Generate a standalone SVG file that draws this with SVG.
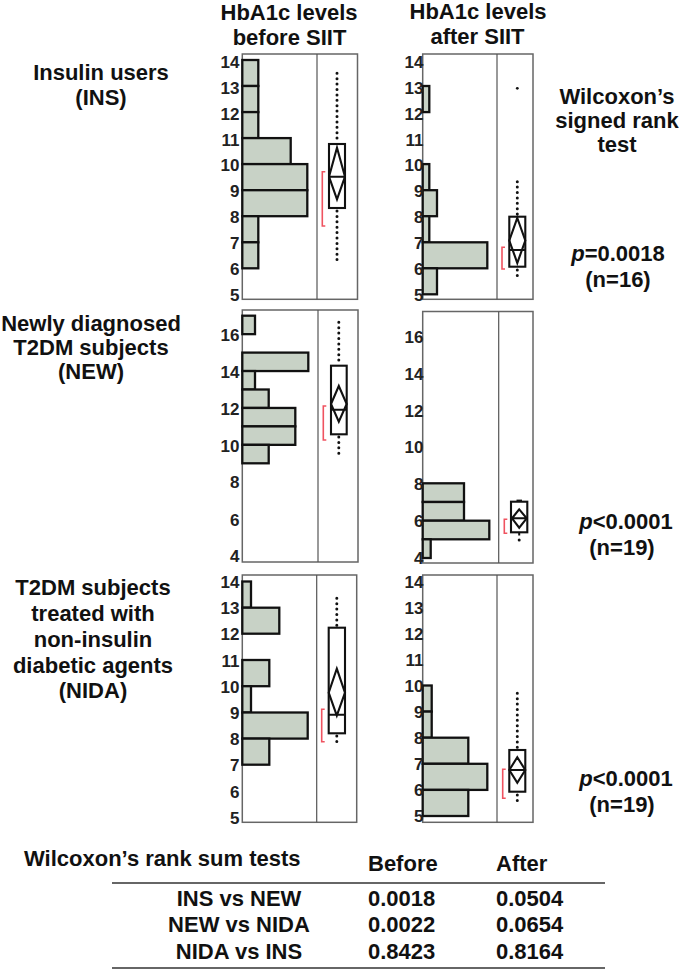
<svg xmlns="http://www.w3.org/2000/svg" width="685" height="971" viewBox="0 0 685 971">
<defs>
<style>
.bg{fill:#fff}
.hb{fill:#c8d2c6;stroke:#111;stroke-width:2.3}
.frame{fill:none;stroke:#666;stroke-width:1.5}
.dv{stroke:#555;stroke-width:1.2}
.box{fill:#fff;stroke:#111;stroke-width:2.1}
.dm{fill:none;stroke:#111;stroke-width:2.1;stroke-linejoin:miter}
.dot{stroke:#111;stroke-width:3;stroke-dasharray:0 5.4;stroke-linecap:round;fill:none}
.ci{fill:none;stroke:#ef5360;stroke-width:1.6}
.tick{font-family:"Liberation Sans",Arial,sans-serif;font-weight:bold;font-size:17px;text-anchor:end;fill:#222}
.lab{font-family:"Liberation Sans",Arial,sans-serif;font-weight:bold;font-size:22px;text-anchor:middle;fill:#111}
.tb{font-family:"Liberation Sans",Arial,sans-serif;font-weight:bold;font-size:22px;fill:#111}
.rule{stroke:#333;stroke-width:1.5}
</style>
</defs>
<rect class="bg" x="0" y="0" width="685" height="971"/>

<g id="titles">
<text class="lab" x="289" y="20">HbA1c levels</text>
<text class="lab" x="289.5" y="44.5">before SIIT</text>
<text class="lab" x="478" y="19">HbA1c levels</text>
<text class="lab" x="477.5" y="43.5">after SIIT</text>
</g>

<g id="row-labels">
<text class="lab" x="101" y="80">Insulin users</text>
<text class="lab" x="101" y="105">(INS)</text>
<text class="lab" x="91" y="331">Newly diagnosed</text>
<text class="lab" x="91" y="355">T2DM subjects</text>
<text class="lab" x="91" y="379">(NEW)</text>
<text class="lab" x="93" y="595">T2DM subjects</text>
<text class="lab" x="93" y="621">treated with</text>
<text class="lab" x="93" y="647">non-insulin</text>
<text class="lab" x="93" y="673">diabetic agents</text>
<text class="lab" x="93" y="698">(NIDA)</text>
</g>

<g id="stats-labels">
<text class="lab" x="617" y="104">Wilcoxon’s</text>
<text class="lab" x="617" y="128">signed rank</text>
<text class="lab" x="617" y="152">test</text>
<text class="lab" x="618" y="261"><tspan font-style="italic">p</tspan>=0.0018</text>
<text class="lab" x="618" y="287">(n=16)</text>
<text class="lab" x="626" y="529"><tspan font-style="italic">p</tspan>&lt;0.0001</text>
<text class="lab" x="622" y="555">(n=19)</text>
<text class="lab" x="626" y="786"><tspan font-style="italic">p</tspan>&lt;0.0001</text>
<text class="lab" x="622" y="812">(n=19)</text>
</g>

<!-- Top-left: INS before -->
<g id="panel-ins-before">
<rect class="frame" x="242.3" y="54" width="115.2" height="245.3"/>
<rect class="hb" x="242.3" y="60" width="16" height="26"/>
<rect class="hb" x="242.3" y="86" width="16" height="26.1"/>
<rect class="hb" x="242.3" y="112.1" width="16" height="26"/>
<rect class="hb" x="242.3" y="138.1" width="48.4" height="26"/>
<rect class="hb" x="242.3" y="164.1" width="65" height="26.1"/>
<rect class="hb" x="242.3" y="190.2" width="65" height="26"/>
<rect class="hb" x="242.3" y="216.2" width="16" height="26.1"/>
<rect class="hb" x="242.3" y="242.3" width="16" height="26"/>
<line class="dv" x1="317" y1="54" x2="317" y2="299.3"/>
<line class="dot" x1="337" y1="73.3" x2="337" y2="142"/>
<line class="dot" x1="337" y1="211" x2="337" y2="264"/>
<rect class="box" x="329" y="144" width="16" height="64"/>
<path class="dm" d="M337,147.7 L345,176.7 L337,199.3 L329,176.7 Z M329,176.7 H345"/>
<path class="ci" d="M325.3,171.7 H322.3 V226 H325.3"/>
<text class="tick" x="239.5" y="68">14</text>
<text class="tick" x="239.5" y="93.9">13</text>
<text class="tick" x="239.5" y="119.7">12</text>
<text class="tick" x="239.5" y="145.6">11</text>
<text class="tick" x="239.5" y="171.4">10</text>
<text class="tick" x="239.5" y="197.3">9</text>
<text class="tick" x="239.5" y="223.2">8</text>
<text class="tick" x="239.5" y="249">7</text>
<text class="tick" x="239.5" y="274.9">6</text>
<text class="tick" x="239.5" y="300.5">5</text>
</g>

<!-- Top-right: INS after -->
<g id="panel-ins-after">
<rect class="frame" x="422.7" y="54" width="110.3" height="245.3"/>
<rect class="hb" x="422.7" y="86" width="6.6" height="26.1"/>
<rect class="hb" x="422.7" y="164.1" width="6.6" height="26.1"/>
<rect class="hb" x="422.7" y="190.2" width="14.3" height="26"/>
<rect class="hb" x="422.7" y="216.2" width="6.6" height="26.1"/>
<rect class="hb" x="422.7" y="242.3" width="64.6" height="26"/>
<rect class="hb" x="422.7" y="268.3" width="14.3" height="26"/>
<line class="dv" x1="497" y1="54" x2="497" y2="299.3"/>
<circle cx="517.3" cy="88.3" r="1.4" fill="#111"/>
<line class="dot" x1="517.3" y1="181.7" x2="517.3" y2="215"/>
<line class="dot" x1="517.3" y1="270" x2="517.3" y2="275.7"/>
<rect class="box" x="509.3" y="216.7" width="16" height="50"/>
<path class="dm" d="M517.3,218 L525.3,240.5 L517.3,263 L509.3,240.5 Z M509.3,250 H525.3"/>
<path class="ci" d="M505,247.3 H502 V269 H505"/>
<text class="tick" x="423.5" y="68">14</text>
<text class="tick" x="423.5" y="93.9">13</text>
<text class="tick" x="423.5" y="119.7">12</text>
<text class="tick" x="423.5" y="145.6">11</text>
<text class="tick" x="423.5" y="171.4">10</text>
<text class="tick" x="423.5" y="197.3">9</text>
<text class="tick" x="423.5" y="223.2">8</text>
<text class="tick" x="423.5" y="249">7</text>
<text class="tick" x="423.5" y="274.9">6</text>
<text class="tick" x="423.5" y="300.5">5</text>
</g>

<!-- Middle-left: NEW before -->
<g id="panel-new-before">
<rect class="frame" x="242.3" y="310" width="115.7" height="252"/>
<rect class="hb" x="242.3" y="315.7" width="12.7" height="18.45"/>
<rect class="hb" x="242.3" y="352.6" width="66" height="18.45"/>
<rect class="hb" x="242.3" y="371.05" width="12.7" height="18.45"/>
<rect class="hb" x="242.3" y="389.5" width="26.4" height="18.45"/>
<rect class="hb" x="242.3" y="407.95" width="53" height="18.45"/>
<rect class="hb" x="242.3" y="426.4" width="53" height="18.45"/>
<rect class="hb" x="242.3" y="444.85" width="26.4" height="18.45"/>
<line class="dv" x1="318" y1="310" x2="318" y2="562"/>
<line class="dot" x1="338.8" y1="322.3" x2="338.8" y2="363"/>
<line class="dot" x1="338.8" y1="437" x2="338.8" y2="457.7"/>
<rect class="box" x="331" y="365.7" width="15.7" height="68.6"/>
<path class="dm" d="M338.8,386 L346.7,404 L338.8,421.7 L331,404 Z M331,409.7 H346.7"/>
<path class="ci" d="M326.3,406 H323.3 V440 H326.3"/>
<text class="tick" x="239.5" y="340.5">16</text>
<text class="tick" x="239.5" y="378">14</text>
<text class="tick" x="239.5" y="415">12</text>
<text class="tick" x="239.5" y="451.5">10</text>
<text class="tick" x="239.5" y="488.3">8</text>
<text class="tick" x="239.5" y="525.5">6</text>
<text class="tick" x="239.5" y="562">4</text>
</g>

<!-- Middle-right: NEW after -->
<g id="panel-new-after">
<rect class="frame" x="422.7" y="311.5" width="110.3" height="251.5"/>
<rect class="hb" x="422.7" y="483.3" width="41.3" height="18.7"/>
<rect class="hb" x="422.7" y="502" width="41.3" height="18.7"/>
<rect class="hb" x="422.7" y="520.7" width="66.6" height="18.6"/>
<rect class="hb" x="422.7" y="539.3" width="8" height="18.7"/>
<line class="dv" x1="498.7" y1="311.5" x2="498.7" y2="563"/>
<circle cx="519.2" cy="540" r="1.5" fill="#111"/>
<line x1="516.5" y1="500.5" x2="522" y2="500.5" stroke="#111" stroke-width="1.8"/>
<line x1="519.2" y1="532.3" x2="519.2" y2="535.5" stroke="#111" stroke-width="2"/>
<rect class="box" x="511" y="501.7" width="16.3" height="30.6"/>
<path class="dm" d="M519.2,509.3 L526.7,518.3 L519.2,527.7 L512,518.3 Z M511,518.3 H527.3"/>
<path class="ci" d="M507.3,519.3 H504.3 V533.3 H507.3"/>
<text class="tick" x="423.5" y="342.8">16</text>
<text class="tick" x="423.5" y="379.5">14</text>
<text class="tick" x="423.5" y="417.2">12</text>
<text class="tick" x="423.5" y="452.8">10</text>
<text class="tick" x="423.5" y="489.8">8</text>
<text class="tick" x="423.5" y="527.2">6</text>
<text class="tick" x="423.5" y="563.8">4</text>
</g>

<!-- Bottom-left: NIDA before -->
<g id="panel-nida-before">
<rect class="frame" x="242.3" y="575" width="114.4" height="247.3"/>
<rect class="hb" x="242.3" y="581.5" width="8.7" height="26.2"/>
<rect class="hb" x="242.3" y="607.7" width="37" height="26"/>
<rect class="hb" x="242.3" y="660" width="27" height="26.2"/>
<rect class="hb" x="242.3" y="686.2" width="8.7" height="26.3"/>
<rect class="hb" x="242.3" y="712.5" width="65.4" height="26.1"/>
<rect class="hb" x="242.3" y="738.6" width="27" height="26.1"/>
<line class="dv" x1="316.7" y1="575" x2="316.7" y2="822.3"/>
<line class="dot" x1="336.8" y1="598.3" x2="336.8" y2="626"/>
<line class="dot" x1="336.8" y1="736" x2="336.8" y2="742.3"/>
<rect class="box" x="328.7" y="627.7" width="16.3" height="105.6"/>
<path class="dm" d="M336.8,668.7 L345,692.7 L336.8,715.7 L328.7,692.7 Z M328.7,714.7 H345"/>
<path class="ci" d="M324.7,709.3 H321.7 V741.7 H324.7"/>
<text class="tick" x="239.5" y="587.8">14</text>
<text class="tick" x="239.5" y="614">13</text>
<text class="tick" x="239.5" y="640.2">12</text>
<text class="tick" x="239.5" y="666.5">11</text>
<text class="tick" x="239.5" y="692.7">10</text>
<text class="tick" x="239.5" y="718.9">9</text>
<text class="tick" x="239.5" y="745.1">8</text>
<text class="tick" x="239.5" y="771.3">7</text>
<text class="tick" x="239.5" y="797.6">6</text>
<text class="tick" x="239.5" y="823.5">5</text>
</g>

<!-- Bottom-right: NIDA after -->
<g id="panel-nida-after">
<rect class="frame" x="422.7" y="575" width="110.3" height="247.3"/>
<rect class="hb" x="422.7" y="685.5" width="9" height="26.1"/>
<rect class="hb" x="422.7" y="711.6" width="9" height="26.1"/>
<rect class="hb" x="422.7" y="737.7" width="45.6" height="26.1"/>
<rect class="hb" x="422.7" y="763.8" width="64.6" height="26.1"/>
<rect class="hb" x="422.7" y="789.9" width="45.6" height="26.1"/>
<line class="dv" x1="497" y1="575" x2="497" y2="822.3"/>
<line class="dot" x1="517.3" y1="693.3" x2="517.3" y2="748"/>
<line class="dot" x1="517.3" y1="795" x2="517.3" y2="801"/>
<rect class="box" x="509.3" y="750" width="16" height="41.7"/>
<path class="dm" d="M517.3,757.3 L525.3,770 L517.3,782.7 L509.3,770 Z M509.3,770 H525.3"/>
<path class="ci" d="M505.7,769.3 H502.7 V798.3 H505.7"/>
<text class="tick" x="423.5" y="587.8">14</text>
<text class="tick" x="423.5" y="613.8">13</text>
<text class="tick" x="423.5" y="639.9">12</text>
<text class="tick" x="423.5" y="665.9">11</text>
<text class="tick" x="423.5" y="692">10</text>
<text class="tick" x="423.5" y="718">9</text>
<text class="tick" x="423.5" y="744">8</text>
<text class="tick" x="423.5" y="770.1">7</text>
<text class="tick" x="423.5" y="796.1">6</text>
<text class="tick" x="423.5" y="822.2">5</text>
</g>

<g id="connectors"></g>

<!-- Table -->
<g id="table">
<text class="tb" x="24" y="866">Wilcoxon’s rank sum tests</text>
<text class="tb" x="368" y="871">Before</text>
<text class="tb" x="496" y="871">After</text>
<line class="rule" x1="112" y1="883" x2="605" y2="883"/>
<text class="lab" x="239" y="906">INS vs NEW</text>
<text class="tb" x="368" y="906">0.0018</text>
<text class="tb" x="496" y="906">0.0504</text>
<text class="lab" x="239" y="932">NEW vs NIDA</text>
<text class="tb" x="368" y="932">0.0022</text>
<text class="tb" x="496" y="932">0.0654</text>
<text class="lab" x="239" y="959">NIDA vs INS</text>
<text class="tb" x="368" y="959">0.8423</text>
<text class="tb" x="496" y="959">0.8164</text>
<line class="rule" x1="112" y1="968" x2="605" y2="968"/>
</g>
</svg>
